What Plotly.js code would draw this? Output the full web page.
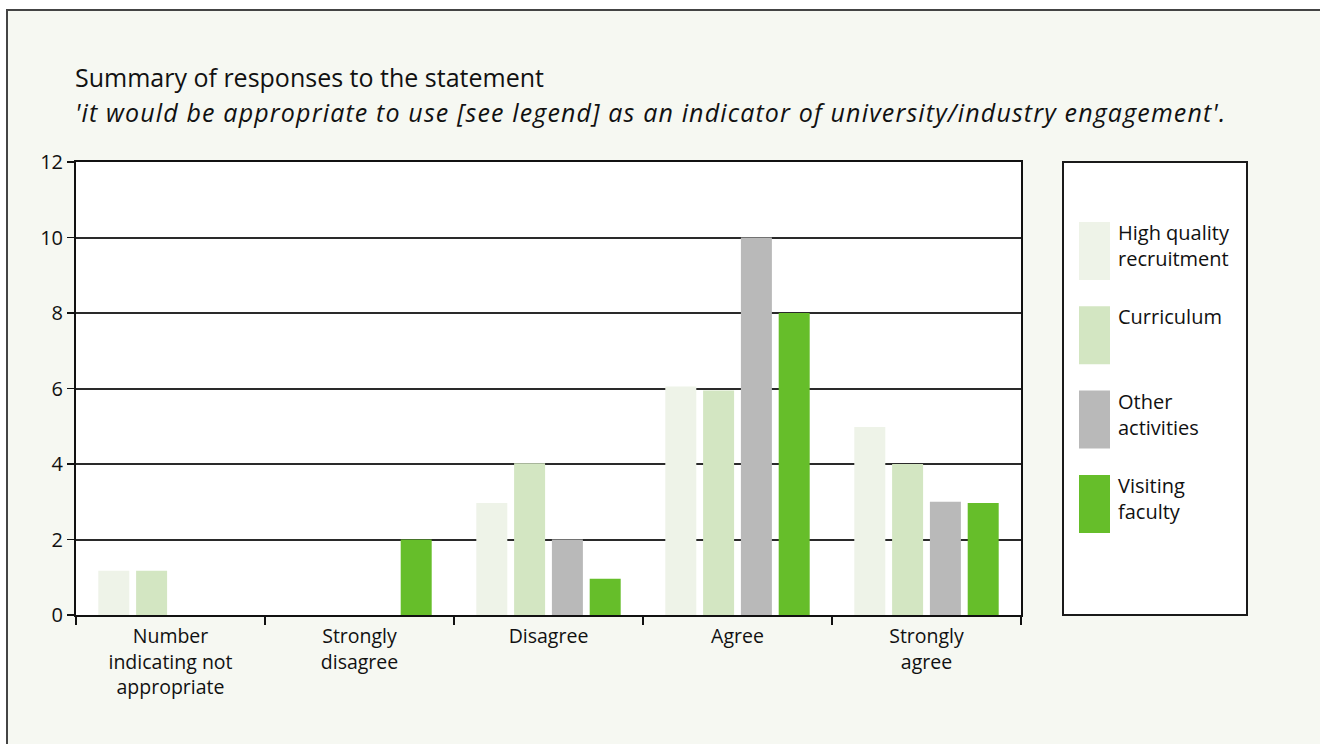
<!DOCTYPE html>
<html>
<head>
<meta charset="utf-8">
<script src="https://cdn.plot.ly/plotly-3.0.1.min.js"></script>
<style>
  html, body { margin: 0; padding: 0; background: #ffffff; }
  #chart { width: 1320px; height: 744px; }
</style>
</head>
<body>
<div id="chart"></div>
<script>
// ---- data ----
const categories = [
  "Number<br>indicating not<br>appropriate",
  "Strongly<br>disagree",
  "Disagree",
  "Agree",
  "Strongly<br>agree"
];
const seriesNames = ["High quality<br>recruitment", "Curriculum", "Other<br>activities", "Visiting<br>faculty"];
const seriesColors = ["#eef3e8", "#d3e6c2", "#b9b9b9", "#66be2a"];
const highQualityRecruitment = [1.17, 0, 2.97, 6.05, 4.98];
const curriculum = [1.17, 0, 4.02, 5.95, 4.0];
const otherActivities = [0, 0, 2.0, 10.0, 3.0];
const visitingFaculty = [0, 2.0, 0.96, 8.0, 2.97];
const seriesValues = [highQualityRecruitment, curriculum, otherActivities, visitingFaculty];
const yTickVals = [0, 2, 4, 6, 8, 10, 12];

const FONT = "Open Sans, Noto Sans, DejaVu Sans, sans-serif";
const INK = "#111111";

const traces = seriesValues.map((vals, i) => ({
  type: "bar",
  name: seriesNames[i],
  x: categories,
  y: vals,
  marker: { color: seriesColors[i], line: { width: 0 } },
  showlegend: false,
  hoverinfo: "x+y+name"
}));

// plot area in px: x 76..1021, y 162..615
const L = 76, R = 1021, T = 162, B = 615;
const W = R - L, H = B - T;
const px = x => (x - L) / W;
const py = y => (B - y) / H;

const shapes = [
  // outer panel
  { type: "rect", xref: "paper", yref: "paper", layer: "below",
    x0: px(7), x1: px(1340), y0: py(10), y1: py(760),
    fillcolor: "#f6f8f2", line: { color: "#444444", width: 2 } },
  // plot area background
  { type: "rect", xref: "paper", yref: "paper", layer: "below",
    x0: 0, x1: 1, y0: 0, y1: 1,
    fillcolor: "#ffffff", line: { width: 0 } },
  // legend box
  { type: "rect", xref: "paper", yref: "paper", layer: "below",
    x0: px(1063), x1: px(1247), y0: 0, y1: 1,
    fillcolor: "#ffffff", line: { color: "#1a1a1a", width: 2 } }
];

const annotations = [
  { xref: "paper", yref: "paper", x: px(73), y: py(77), xanchor: "left", yanchor: "middle",
    align: "left", showarrow: false, text: "Summary of responses to the statement",
    font: { family: FONT, size: 25, color: INK } },
  { xref: "paper", yref: "paper", x: px(73), y: py(112), xanchor: "left", yanchor: "middle",
    align: "left", showarrow: false,
    text: "<i>'it would be appropriate to use [see legend] as an indicator of university/industry engagement'.</i>",
    font: { family: FONT, size: 25, color: INK } }
];

// manual legend with large swatches
seriesNames.forEach((name, i) => {
  const top = 222 + i * 84.3;
  shapes.push({ type: "rect", xref: "paper", yref: "paper",
    x0: px(1079), x1: px(1110), y0: py(top + 58), y1: py(top),
    fillcolor: seriesColors[i], line: { width: 0 } });
  annotations.push({ xref: "paper", yref: "paper", x: px(1116), y: py(top - 5),
    xanchor: "left", yanchor: "top", align: "left", showarrow: false,
    text: name, font: { family: FONT, size: 20, color: INK } });
});

const layout = {
  width: 1320, height: 744,
  margin: { l: L, r: 1320 - R, t: T, b: 744 - B, pad: 0 },
  paper_bgcolor: "#ffffff",
  plot_bgcolor: "rgba(0,0,0,0)",
  barmode: "group",
  bargap: 0.2,
  bargroupgap: 0.18,
  font: { family: FONT, size: 20, color: INK },
  xaxis: {
    type: "category",
    showline: true, linecolor: "#111111", linewidth: 2, mirror: true,
    ticks: "outside", tickson: "boundaries", ticklen: 8, tickwidth: 1.5, tickcolor: "#111111",
    ticklabelstandoff: 3,
    showgrid: false, zeroline: false,
    tickfont: { family: FONT, size: 19.5, color: INK }
  },
  yaxis: {
    range: [0, 12], tickvals: yTickVals, ticktext: yTickVals.map(String),
    showline: true, linecolor: "#111111", linewidth: 2, mirror: true,
    ticks: "outside", ticklen: 7, tickwidth: 1.5, tickcolor: "#111111",
    showgrid: true, gridcolor: "#2a2a2a", gridwidth: 2,
    zeroline: false,
    tickfont: { family: FONT, size: 20, color: INK }
  },
  shapes: shapes,
  annotations: annotations
};

Plotly.newPlot("chart", traces, layout, { displayModeBar: false, staticPlot: true }).then(gd => {
  // widen the italic subtitle to match the original typeface's set width
  gd.querySelectorAll(".annotation-text").forEach(t => {
    if (t.textContent.startsWith("'it")) t.style.letterSpacing = "1.15px";
  });
});
</script>
</body>
</html>
